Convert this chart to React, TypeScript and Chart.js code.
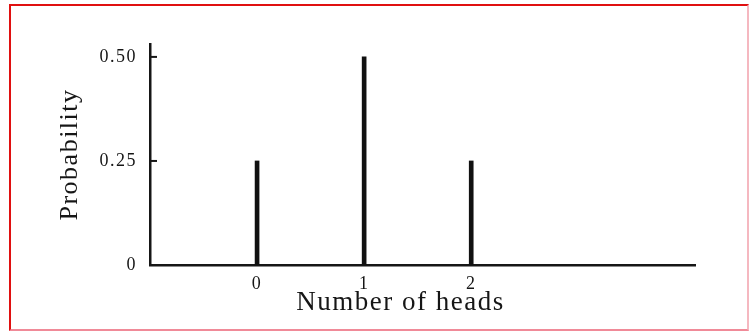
import React, { useEffect, useRef } from "react";
import { Chart, registerables } from "chart.js";

Chart.register(...registerables);

const headsValues = [0, 1, 2];
const probabilities = [0.25, 0.5, 0.25];
const yTickValues = [0, 0.25, 0.5];
const yTickLabels = ["0", "0.25", "0.50"];
const xTickValues = [0, 1, 2];
const xTitle = "Number of heads";
const yTitle = "Probability";

const FONT = "'Liberation Serif', 'DejaVu Serif', serif";
const INK = "#161616";

const scanText = {
  id: "scanText",
  beforeDraw(chart: any) {
    chart.ctx.letterSpacing = "1.5px";
  },
  afterDraw(chart: any) {
    const ctx = chart.ctx;
    const x = chart.scales.x;
    const y = chart.scales.y;
    ctx.save();
    // inner tick marks on the y axis
    ctx.strokeStyle = INK;
    ctx.lineWidth = 2;
    yTickValues.forEach((v) => {
      if (v === 0) return;
      const py = y.getPixelForValue(v);
      ctx.beginPath();
      ctx.moveTo(chart.chartArea.left, py);
      ctx.lineTo(chart.chartArea.left + 7, py);
      ctx.stroke();
    });
    // x-axis title (set slightly left of centre as in the original)
    ctx.letterSpacing = "1.5px";
    ctx.fillStyle = INK;
    ctx.font = `27px ${FONT}`;
    ctx.textAlign = "center";
    ctx.textBaseline = "middle";
    ctx.fillText(xTitle, x.getPixelForValue(1.34), chart.chartArea.bottom + 38);
    ctx.restore();
  },
};

export default function App() {
  const ref = useRef<HTMLCanvasElement | null>(null);

  useEffect(() => {
    if (!ref.current) return;
    const chart = new Chart(ref.current, {
      type: "bar",
      data: {
        datasets: [
          {
            data: headsValues.map((h, i) => ({ x: h, y: probabilities[i] })),
            backgroundColor: "#111",
            borderWidth: 0,
            barThickness: 4,
          },
        ],
      },
      options: {
        responsive: false,
        animation: false,
        events: [],
        layout: { padding: { left: 44, top: 44, right: 55, bottom: 6 } },
        plugins: { legend: { display: false }, tooltip: { enabled: false } },
        scales: {
          x: {
            type: "linear",
            offset: false,
            min: -1,
            max: 4.09,
            afterBuildTicks: (scale: any) => {
              scale.ticks = xTickValues.map((v) => ({ value: v }));
            },
            afterFit: (scale: any) => {
              scale.height = 60;
            },
            grid: { display: false, drawTicks: false, offset: false },
            border: { display: true, color: INK, width: 2.5 },
            ticks: {
              color: INK,
              font: { family: FONT, size: 18 },
              padding: 8,
              maxRotation: 0,
              callback: (v: any) => String(v),
            },
            title: { display: false },
          },
          y: {
            type: "linear",
            min: 0,
            max: 0.531,
            afterBuildTicks: (scale: any) => {
              scale.ticks = yTickValues.map((v) => ({ value: v }));
            },
            afterFit: (scale: any) => {
              scale.width = 106;
            },
            grid: { display: false, drawTicks: false },
            border: { display: true, color: INK, width: 2.5 },
            ticks: {
              color: INK,
              font: { family: FONT, size: 18 },
              padding: 13,
              callback: (v: any) => {
                const i = yTickValues.indexOf(Number(v));
                return i >= 0 ? yTickLabels[i] : "";
              },
            },
            title: {
              display: true,
              text: yTitle,
              color: INK,
              font: { family: FONT, size: 26 },
              padding: { top: 11, bottom: 0 },
            },
          },
        },
      },
      plugins: [scanText],
    } as any);
    return () => chart.destroy();
  }, []);

  return (
    <div
      style={{
        position: "fixed",
        left: 0,
        top: 0,
        width: 750,
        height: 331,
        background: "#fff",
      }}
    >
      <div
        style={{
          position: "absolute",
          left: 9,
          top: 4,
          width: 736,
          height: 323,
          borderTop: "2px solid #e01010",
          borderLeft: "2px solid #e01010",
          borderRight: "2px solid #f5b8c0",
          borderBottom: "2px solid #f08a98",
        }}
      />
      <canvas
        ref={ref}
        width={750}
        height={331}
        style={{ position: "absolute", left: 0, top: 0, width: 750, height: 331 }}
      />
    </div>
  );
}
